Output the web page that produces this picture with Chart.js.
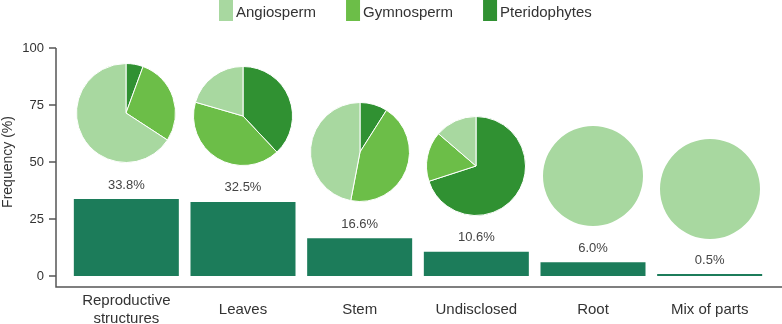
<!DOCTYPE html>
<html>
<head>
<meta charset="utf-8">
<script src="https://cdn.jsdelivr.net/npm/chart.js@4.4.0/dist/chart.umd.min.js"></script>
<style>
  html, body { margin: 0; padding: 0; background: #fff; }
  #wrap { position: relative; width: 782px; height: 324px; overflow: hidden; }
  #mainChart { position: absolute; left: 0; top: 0; }
  .pie { position: absolute; }
</style>
</head>
<body>
<div id="wrap"><canvas id="mainChart" width="782" height="324"></canvas></div>
<script>
// Plant parts used
const categories = [['Reproductive', 'structures'], 'Leaves', 'Stem', 'Undisclosed', 'Root', 'Mix of parts'];
const frequency = [33.8, 32.5, 16.6, 10.6, 6.0, 0.5];
const yTicks = [0, 25, 50, 75, 100];

// Share of each plant group per part (pies)
const groups = ['Angiosperm', 'Gymnosperm', 'Pteridophytes'];
const angiosperm = [65.8, 20.5, 47, 13.7, 100, 100];
const gymnosperm = [28.6, 41.5, 44, 16.3, 0, 0];
const pteridophytes = [5.6, 38, 9, 70, 0, 0];

const barColor = '#1c7c5a';
const groupColors = ['#a8d8a0', '#6cbe48', '#309132'];
const family = 'Liberation Sans, Arial, sans-serif';

// Legend on top
const legendPlugin = {
    id: 'topLegend',
    afterDraw(chart) {
        const ctx = chart.ctx;
        ctx.save();
        ctx.font = '15px ' + family;
        let x = 219;
        groups.forEach((name, i) => {
            ctx.fillStyle = groupColors[i];
            ctx.fillRect(x, 0, 14, 21);
            ctx.fillStyle = '#333';
            ctx.fillText(name, x + 17, 17);
            x += 17 + ctx.measureText(name).width + 30;
        });
        ctx.restore();
    }
};

// Axis lines, detached from the plot area
const axisPlugin = {
    id: 'axisLines',
    afterDraw(chart) {
        const { ctx, chartArea } = chart;
        const y = chart.scales.y;
        const axisX = chartArea.left - 12;
        const axisY = chartArea.bottom + 11;
        ctx.save();
        ctx.strokeStyle = '#555';
        ctx.lineWidth = 1.5;
        ctx.beginPath();
        ctx.moveTo(axisX, y.getPixelForValue(100));
        ctx.lineTo(axisX, axisY);
        ctx.lineTo(chart.width, axisY);
        yTicks.forEach(v => {
            const py = y.getPixelForValue(v);
            ctx.moveTo(axisX - 7, py);
            ctx.lineTo(axisX, py);
        });
        ctx.stroke();
        ctx.restore();
    }
};

// Percent labels over the bars
const valueLabelPlugin = {
    id: 'valueLabels',
    afterDatasetsDraw(chart) {
        const ctx = chart.ctx;
        ctx.save();
        ctx.font = '13px ' + family;
        ctx.fillStyle = '#444';
        ctx.textAlign = 'center';
        ctx.textBaseline = 'middle';
        chart.getDatasetMeta(0).data.forEach((bar, i) => {
            ctx.fillText(frequency[i].toFixed(1) + '%', bar.x, bar.y - 14);
        });
        ctx.restore();
    }
};

const chart = new Chart(document.getElementById('mainChart'), {
    type: 'bar',
    data: {
        labels: categories,
        datasets: [{
            data: frequency,
            backgroundColor: barColor,
            barPercentage: 0.9,
            categoryPercentage: 1,
            minBarLength: 2
        }]
    },
    options: {
        responsive: false,
        animation: false,
        layout: { padding: { top: 48, right: 14, left: 0, bottom: 0 } },
        plugins: {
            legend: { display: false },
            tooltip: { enabled: false }
        },
        scales: {
            x: {
                grid: { display: false, drawTicks: false },
                border: { display: false },
                ticks: {
                    color: '#333',
                    font: { family: family, size: 15, lineHeight: 1.2 },
                    padding: 25,
                    crossAlign: 'center',
                    maxRotation: 0,
                    autoSkip: false
                },
                afterFit: s => { s.height = 48; }
            },
            y: {
                min: 0,
                max: 100,
                afterBuildTicks: s => { s.ticks = yTicks.map(v => ({ value: v })); },
                grid: { display: false, drawTicks: false },
                border: { display: false },
                ticks: { color: '#333', font: { family: family, size: 13 }, padding: 24 },
                title: {
                    display: true,
                    text: 'Frequency (%)',
                    color: '#333',
                    font: { family: family, size: 14 },
                    padding: 0
                },
                afterFit: s => { s.width = 68; }
            }
        }
    },
    plugins: [axisPlugin, valueLabelPlugin, legendPlugin]
});

// Pies above each bar
const wrap = document.getElementById('wrap');
const pieSize = 100;
frequency.forEach((v, i) => {
    const cx = chart.scales.x.getPixelForValue(i);
    const cy = chart.scales.y.getPixelForValue(v) - 86;
    const c = document.createElement('canvas');
    c.width = pieSize;
    c.height = pieSize;
    c.className = 'pie';
    c.style.left = (cx - pieSize / 2) + 'px';
    c.style.top = (cy - pieSize / 2) + 'px';
    wrap.appendChild(c);

    const values = [pteridophytes[i], gymnosperm[i], angiosperm[i]];
    new Chart(c, {
        type: 'pie',
        data: {
            labels: [groups[2], groups[1], groups[0]],
            datasets: [{
                data: values,
                backgroundColor: [groupColors[2], groupColors[1], groupColors[0]],
                borderColor: '#fff',
                borderWidth: values.filter(x => x > 0).length > 1 ? 1 : 0
            }]
        },
        options: {
            responsive: false,
            animation: false,
            plugins: { legend: { display: false }, tooltip: { enabled: false } }
        }
    });
});
</script>
</body>
</html>
